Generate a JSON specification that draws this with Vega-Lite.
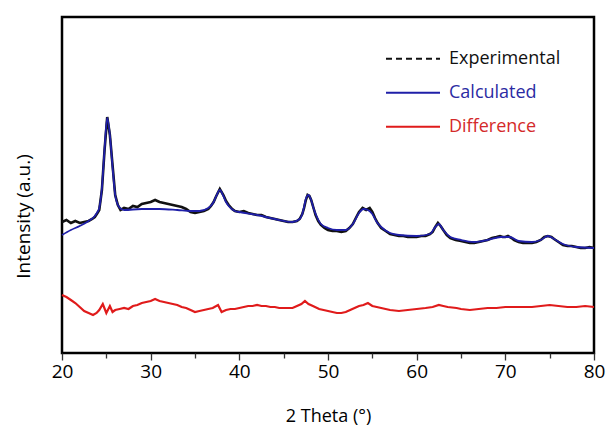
{
  "$schema": "https://vega.github.io/schema/vega-lite/v6.json",
  "width": 532,
  "height": 336,
  "autosize": {"type": "none"},
  "padding": {"left": 62, "top": 17, "right": 15, "bottom": 74},
  "background": "white",
  "config": {
    "view": {"stroke": "black", "strokeWidth": 2.5},
    "font": "Open Sans"
  },
  "datasets": {
    "exp": [
      {"t":20,"i":131},{"t":20.5,"i":133},{"t":21,"i":130},{"t":21.5,"i":132},{"t":22,"i":130},{"t":22.5,"i":131},{"t":23,"i":132},{"t":23.4,"i":134},{"t":23.7,"i":136},{"t":24.0,"i":140},{"t":24.2,"i":143},{"t":24.5,"i":163},{"t":24.8,"i":203},{"t":25.1,"i":236},{"t":25.4,"i":218},{"t":25.7,"i":188},{"t":26.0,"i":158},{"t":26.3,"i":148},{"t":26.6,"i":143},{"t":27,"i":145},{"t":27.5,"i":144},{"t":28,"i":147},{"t":28.5,"i":146},{"t":29,"i":149},{"t":29.5,"i":150},{"t":30,"i":151},{"t":30.5,"i":153},{"t":31,"i":151},{"t":31.5,"i":150},{"t":32,"i":149},{"t":32.5,"i":148},{"t":33,"i":147},{"t":33.5,"i":146},{"t":34,"i":144},{"t":34.5,"i":141},{"t":35,"i":140},{"t":35.5,"i":141},{"t":36,"i":142},{"t":36.5,"i":144},{"t":36.8,"i":147},{"t":37.1,"i":151},{"t":37.4,"i":157},{"t":37.8,"i":164},{"t":38.2,"i":158},{"t":38.5,"i":152},{"t":38.8,"i":148},{"t":39.2,"i":144},{"t":39.5,"i":142},{"t":40,"i":141},{"t":40.5,"i":142},{"t":41,"i":140},{"t":41.5,"i":139},{"t":42,"i":138},{"t":42.5,"i":138},{"t":43,"i":136},{"t":43.5,"i":135},{"t":44,"i":134},{"t":44.5,"i":133},{"t":45,"i":132},{"t":45.5,"i":131},{"t":46,"i":131},{"t":46.5,"i":132},{"t":46.8,"i":134},{"t":47.1,"i":139},{"t":47.3,"i":145},{"t":47.5,"i":153},{"t":47.7,"i":158},{"t":47.9,"i":157},{"t":48.1,"i":153},{"t":48.4,"i":144},{"t":48.6,"i":138},{"t":48.9,"i":132},{"t":49.2,"i":128},{"t":49.6,"i":125},{"t":50,"i":123},{"t":50.5,"i":122},{"t":51,"i":122},{"t":51.5,"i":121},{"t":52,"i":122},{"t":52.4,"i":125},{"t":52.8,"i":129},{"t":53.2,"i":136},{"t":53.5,"i":141},{"t":53.9,"i":145},{"t":54.3,"i":143},{"t":54.7,"i":145},{"t":55.0,"i":141},{"t":55.3,"i":135},{"t":55.6,"i":130},{"t":56,"i":125},{"t":56.5,"i":122},{"t":57,"i":119},{"t":57.5,"i":118},{"t":58,"i":117},{"t":58.5,"i":117},{"t":59,"i":116},{"t":59.5,"i":116},{"t":60,"i":116},{"t":60.5,"i":117},{"t":61,"i":117},{"t":61.5,"i":119},{"t":61.8,"i":121},{"t":62.1,"i":126},{"t":62.4,"i":130},{"t":62.7,"i":127},{"t":63,"i":123},{"t":63.4,"i":118},{"t":63.8,"i":115},{"t":64.4,"i":113},{"t":65,"i":112},{"t":65.5,"i":111},{"t":66,"i":110},{"t":66.5,"i":110},{"t":67,"i":111},{"t":67.5,"i":112},{"t":68,"i":113},{"t":68.5,"i":115},{"t":69,"i":116},{"t":69.4,"i":117},{"t":69.7,"i":116},{"t":70,"i":116},{"t":70.3,"i":117},{"t":70.7,"i":115},{"t":71,"i":113},{"t":71.5,"i":111},{"t":72,"i":110},{"t":72.5,"i":110},{"t":73,"i":110},{"t":73.5,"i":111},{"t":74,"i":113},{"t":74.4,"i":116},{"t":74.8,"i":117},{"t":75.2,"i":116},{"t":75.5,"i":114},{"t":76,"i":111},{"t":76.5,"i":108},{"t":77,"i":107},{"t":77.5,"i":107},{"t":78,"i":106},{"t":78.5,"i":105},{"t":79,"i":105},{"t":79.5,"i":106},{"t":80,"i":105}
    ],
    "calc": [
      {"t":20,"i":118},{"t":21,"i":123},{"t":22,"i":127},{"t":23,"i":132},{"t":23.7,"i":137},{"t":24.0,"i":141},{"t":24.2,"i":145},{"t":24.5,"i":165},{"t":24.8,"i":204},{"t":25.1,"i":235},{"t":25.4,"i":218},{"t":25.7,"i":186},{"t":26.0,"i":158},{"t":26.3,"i":148},{"t":26.7,"i":144},{"t":27,"i":143},{"t":29,"i":144},{"t":31,"i":144},{"t":33,"i":143},{"t":34.5,"i":142},{"t":35.5,"i":142},{"t":36.5,"i":145},{"t":37.1,"i":151},{"t":37.4,"i":157},{"t":37.8,"i":163},{"t":38.2,"i":157},{"t":38.5,"i":151},{"t":38.8,"i":147},{"t":39.5,"i":142},{"t":40,"i":141},{"t":42,"i":138},{"t":44,"i":134},{"t":46,"i":131},{"t":46.8,"i":134},{"t":47.1,"i":139},{"t":47.3,"i":146},{"t":47.5,"i":154},{"t":47.8,"i":158},{"t":48.1,"i":153},{"t":48.4,"i":144},{"t":48.7,"i":137},{"t":49.2,"i":129},{"t":50,"i":125},{"t":51,"i":123},{"t":52,"i":123},{"t":52.8,"i":129},{"t":53.5,"i":140},{"t":54.0,"i":144},{"t":54.5,"i":143},{"t":55.0,"i":139},{"t":55.5,"i":131},{"t":56,"i":126},{"t":57,"i":120},{"t":58,"i":118},{"t":60,"i":117},{"t":61.5,"i":119},{"t":62.1,"i":126},{"t":62.5,"i":129},{"t":63,"i":123},{"t":63.8,"i":116},{"t":65,"i":113},{"t":66.5,"i":111},{"t":68,"i":113},{"t":69.5,"i":116},{"t":70.5,"i":116},{"t":71.5,"i":112},{"t":73,"i":111},{"t":74,"i":113},{"t":74.8,"i":117},{"t":75.5,"i":114},{"t":76.5,"i":109},{"t":78,"i":106},{"t":80,"i":105}
    ],
    "diff": [
      {"t":20,"i":58},{"t":20.5,"i":56},{"t":21,"i":53},{"t":21.5,"i":50},{"t":22,"i":46},{"t":22.5,"i":42},{"t":23,"i":40},{"t":23.5,"i":38},{"t":23.9,"i":40},{"t":24.2,"i":43},{"t":24.6,"i":49},{"t":25,"i":40},{"t":25.4,"i":47},{"t":25.7,"i":41},{"t":26,"i":43},{"t":26.5,"i":44},{"t":27,"i":45},{"t":27.5,"i":44},{"t":28,"i":47},{"t":28.5,"i":48},{"t":29,"i":50},{"t":29.5,"i":51},{"t":30,"i":52},{"t":30.5,"i":54},{"t":31,"i":52},{"t":31.5,"i":51},{"t":32,"i":50},{"t":32.5,"i":49},{"t":33,"i":48},{"t":33.5,"i":46},{"t":34,"i":45},{"t":34.5,"i":43},{"t":35,"i":41},{"t":35.5,"i":42},{"t":36,"i":43},{"t":36.5,"i":44},{"t":37,"i":45},{"t":37.6,"i":48},{"t":38,"i":41},{"t":38.5,"i":43},{"t":39,"i":44},{"t":39.5,"i":44},{"t":40,"i":45},{"t":40.5,"i":46},{"t":41,"i":47},{"t":41.5,"i":47},{"t":42,"i":48},{"t":42.5,"i":47},{"t":43,"i":47},{"t":43.5,"i":46},{"t":44,"i":46},{"t":44.5,"i":45},{"t":45,"i":45},{"t":45.5,"i":45},{"t":46,"i":45},{"t":46.5,"i":47},{"t":47,"i":49},{"t":47.4,"i":52},{"t":47.8,"i":49},{"t":48.3,"i":47},{"t":49,"i":44},{"t":49.5,"i":43},{"t":50,"i":42},{"t":50.5,"i":41},{"t":51,"i":40},{"t":51.5,"i":40},{"t":52,"i":41},{"t":52.5,"i":43},{"t":53,"i":45},{"t":53.5,"i":47},{"t":54,"i":48},{"t":54.5,"i":50},{"t":55,"i":47},{"t":55.5,"i":46},{"t":56,"i":45},{"t":56.5,"i":44},{"t":57,"i":43},{"t":58,"i":42},{"t":59,"i":43},{"t":60,"i":44},{"t":61,"i":45},{"t":61.8,"i":46},{"t":62.5,"i":48},{"t":63,"i":47},{"t":63.5,"i":46},{"t":64.5,"i":45},{"t":65,"i":44},{"t":66,"i":43},{"t":67,"i":44},{"t":68,"i":45},{"t":69,"i":45},{"t":70,"i":46},{"t":71,"i":46},{"t":72,"i":46},{"t":73,"i":46},{"t":74,"i":47},{"t":75,"i":48},{"t":76,"i":47},{"t":77,"i":46},{"t":78,"i":46},{"t":79,"i":47},{"t":80,"i":46}
    ]
  },
  "encoding": {
    "x": {
      "field": "t", "type": "quantitative",
      "scale": {"domain": [20, 80], "nice": false, "zero": false},
      "axis": {
        "values": [20,25,30,35,40,45,50,55,60,65,70,75,80],
        "labelExpr": "datum.value % 10 === 0 ? datum.label : ''",
        "grid": false, "domain": false,
        "tickColor": "#333", "tickWidth": 1.3,
        "tickSize": {"expr": "datum.value % 10 === 0 ? 7 : 5"},
        "labelFontSize": 19, "labelColor": "black", "labelPadding": 2,
        "labelFont": "Open Sans", "labelFlush": false,
        "title": "2 Theta (°)", "titleFontSize": 18, "titleFontWeight": "normal",
        "titleFont": "Open Sans", "titleColor": "black", "titlePadding": 26
      }
    },
    "y": {
      "field": "i", "type": "quantitative",
      "scale": {"domain": [0, 336], "nice": false},
      "axis": {
        "labels": false, "ticks": false, "grid": false, "domain": false,
        "title": "Intensity (a.u.)", "titleFontSize": 19, "titleFontWeight": "normal",
        "titleFont": "Open Sans", "titleColor": "black",
        "titleX": -29, "titleY": 199
      }
    },
    "color": {
      "field": "s", "type": "nominal",
      "scale": {"domain": ["Experimental", "Calculated", "Difference"], "range": ["#111111", "#1f1fa8", "#e01b1b"]},
      "legend": {
        "title": null, "orient": "none", "legendX": 323, "legendY": 25,
        "symbolType": "stroke", "symbolSize": 400, "symbolStrokeWidth": 2,
        "labelFontSize": 18, "labelFont": "Open Sans", "labelOffset": 8,
        "rowPadding": 0, "clipHeight": 33.5,
        "encode": {
          "symbols": {"update": {"size": {"value": 2916}, "strokeDash": {"signal": "datum.value === 'Experimental' ? [6,4] : [1,0]"}}},
          "labels": {"update": {"fill": {"signal": "datum.value === 'Experimental' ? '#111111' : datum.value === 'Calculated' ? '#2b2ba3' : '#d42a2a'"}}}
        }
      }
    }
  },
  "layer": [
    {"data": {"name": "exp"}, "transform": [{"calculate": "'Experimental'", "as": "s"}], "mark": {"type": "line", "strokeWidth": 2.6}},
    {"data": {"name": "calc"}, "transform": [{"calculate": "'Calculated'", "as": "s"}], "mark": {"type": "line", "strokeWidth": 1.8, "interpolate": "monotone"}},
    {"data": {"name": "diff"}, "transform": [{"calculate": "'Difference'", "as": "s"}], "mark": {"type": "line", "strokeWidth": 2.2}}
  ]
}
